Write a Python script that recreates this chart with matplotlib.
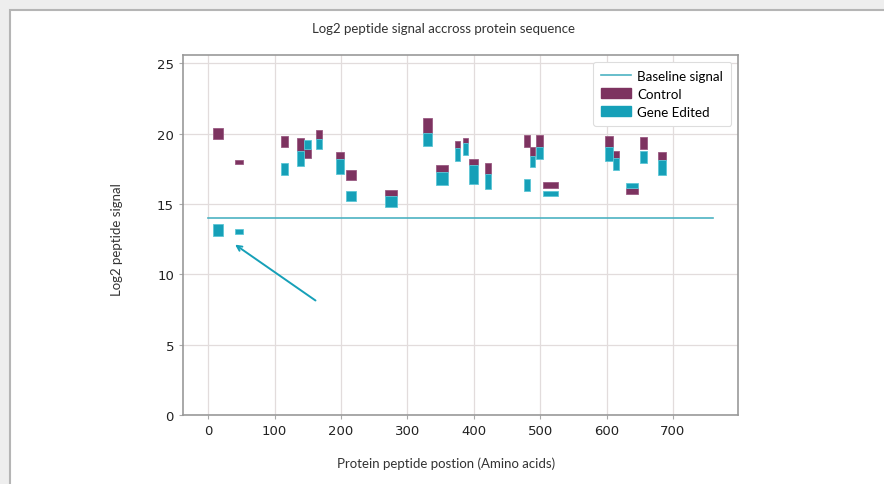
import matplotlib
matplotlib.use("Agg")
import matplotlib.pyplot as plt
from matplotlib.patches import Rectangle, Patch
from matplotlib.lines import Line2D

# Peptide positions (amino acids)
pep_start = [7, 40, 110, 134, 145, 162, 193, 208, 267, 324, 343, 372, 384, 393,
             417, 475, 484, 493, 505, 597, 610, 630, 651, 677]
pep_end = [22, 53, 120, 145, 155, 172, 204, 222, 285, 337, 361, 380, 392, 406,
           426, 484, 492, 505, 527, 610, 619, 647, 661, 689]
# Control signal range (log2)
ctrl_low = [19.6, 17.83, 19.07, 18.75, 18.3, 19.65, 18.23, 16.7, 15.58, 20.08, 17.29, 19.0,
            19.37, 17.8, 17.17, 19.07, 18.43, 19.07, 16.15, 19.07, 18.28, 15.74, 18.9, 18.11]
ctrl_high = [20.4, 18.16, 19.85, 19.7, 18.9, 20.3, 18.7, 17.45, 15.98, 21.13, 17.76, 19.5,
             19.7, 18.23, 17.9, 19.9, 19.07, 19.9, 16.57, 19.85, 18.78, 16.15, 19.78, 18.71]
# Gene edited signal range (log2)
edit_low = [12.75, 12.9, 17.1, 17.7, 18.9, 18.95, 17.17, 15.2, 14.8, 19.1, 16.33, 18.07,
            18.47, 16.45, 16.1, 15.93, 17.64, 18.23, 15.58, 18.07, 17.45, 16.15, 17.93, 17.1]
edit_high = [13.6, 13.25, 17.9, 18.75, 19.55, 19.65, 18.23, 15.95, 15.58, 20.08, 17.29, 19.0,
             19.37, 17.8, 17.17, 16.76, 18.43, 19.07, 15.93, 19.07, 18.28, 16.5, 18.78, 18.11]

baseline_x = [0, 760]
baseline_y = [14, 14]

purple = "#7d3360"
teal = "#16a0b8"
line_col = "#4db3c2"

fig = plt.figure(figsize=(8.84, 4.85), dpi=100)
fig.patch.set_facecolor("#eeeeee")
panel = Rectangle((10 / 884, -0.1), 1.0, 1 - 11 / 485 + 0.1, transform=fig.transFigure,
                  facecolor="white", edgecolor="#b5b5b5", linewidth=1.5, zorder=-10)
fig.patches.append(panel)

ax = fig.add_axes([183 / 884, 1 - 416 / 485, (738 - 183) / 884, (416 - 56) / 485])
ax.set_zorder(1)
ax.set_facecolor("white")

ax.plot(baseline_x, baseline_y, color=line_col, lw=1.2, zorder=2)

widths = [e - s for s, e in zip(pep_start, pep_end)]
ax.bar(pep_start, [h - l for l, h in zip(ctrl_low, ctrl_high)], width=widths,
       bottom=ctrl_low, align="edge", color=purple, edgecolor="#9a5a82", lw=0.6, zorder=3)
ax.bar(pep_start, [h - l for l, h in zip(edit_low, edit_high)], width=widths,
       bottom=edit_low, align="edge", color=teal, edgecolor="#5cc6d6", lw=0.6, zorder=3)

ax.annotate("", xy=(37, 12.23), xytext=(165, 8.03),
            arrowprops=dict(arrowstyle="->", color=teal, lw=1.4, mutation_scale=9), zorder=4)

ax.set_ylim(0, 25.6)
ax.set_yticks([0, 5, 10, 15, 20, 25])
ax.set_xticks(range(0, 800, 100))
ax.grid(True, color="#e2dcdc", lw=0.9, zorder=0)
ax.set_axisbelow(True)
for s in ax.spines.values():
    s.set_color("#999999")
    s.set_linewidth(1.2)
ax.tick_params(axis="both", labelsize=9.5, colors="#222222", length=3, width=0.8)
ax.tick_params(axis="both", color="#aaaaaa")

lab_font = "Lato"
fig.text(0.502, 1 - 29 / 485, "Log2 peptide signal accross protein sequence",
         ha="center", va="center", fontsize=9.5, family=lab_font, color="#333333")
fig.text(0.505, 1 - 464 / 485, "Protein peptide postion (Amino acids)",
         ha="center", va="center", fontsize=9.5, family=lab_font, color="#333333")
fig.text(117 / 884, 1 - 240 / 485, "Log2 peptide signal", rotation=90,
         ha="center", va="center", fontsize=9.5, family=lab_font, color="#333333")

handles = [Line2D([0], [0], color=line_col, lw=1.2),
           Patch(facecolor=purple, edgecolor=purple),
           Patch(facecolor=teal, edgecolor=teal)]
ax.legend(handles, ["Baseline signal", "Control", "Gene Edited"], loc="upper right",
          prop={"family": lab_font, "size": 9.6}, frameon=True, framealpha=1,
          edgecolor="#dddddd", borderaxespad=0.5, handlelength=2.2, handletextpad=0.5,
          labelspacing=0.45, borderpad=0.6)
ax.get_legend().get_frame().set_linewidth(0.8)
# widen legend box slightly to the right like the reference
fig.savefig("out.png", dpi=100)
